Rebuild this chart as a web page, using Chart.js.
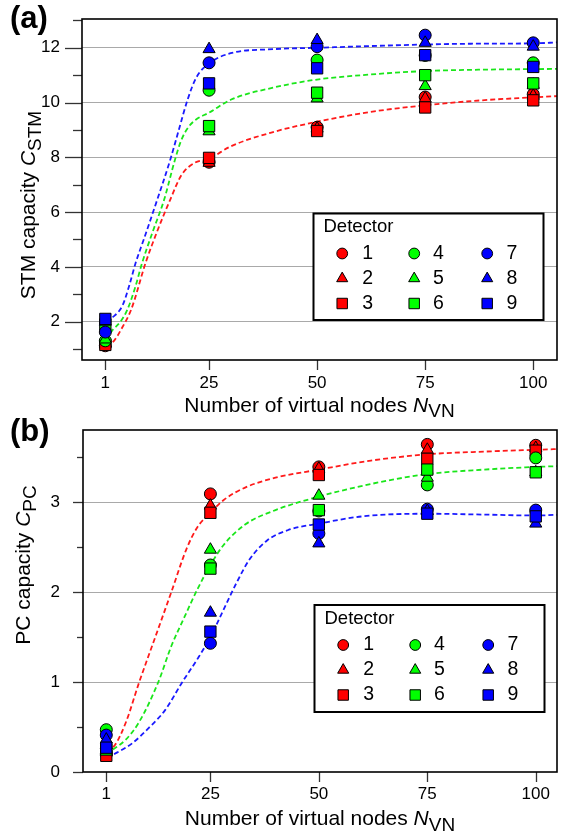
<!DOCTYPE html>
<html><head><meta charset="utf-8">
<script src="https://cdn.jsdelivr.net/npm/chart.js@4.4.0/dist/chart.umd.min.js"></script>
<style>
html,body{margin:0;padding:0;background:#fff;}
#wrap{position:relative;width:566px;height:838px;background:#fff;}
canvas{display:block;position:absolute;left:0;}
</style></head><body>
<div id="wrap">
<canvas id="ca" width="566" height="420" style="top:0"></canvas>
<canvas id="cb" width="566" height="438" style="top:400px"></canvas>
</div>
<script>
// ---------- data ----------
const nodeCounts = [1, 25, 50, 75, 100];
const xTicks = [1, 25, 50, 75, 100];
const stmMajor = [2, 4, 6, 8, 10, 12];
const stmMinor = [1, 3, 5, 7, 9, 11, 13];
const pcMajor = [0, 1, 2, 3];
const pcMinor = [0.5, 1.5, 2.5, 3.5];
const detectorLabels = ['1','2','3','4','5','6','7','8','9'];

// STM capacity per detector (x = nodeCounts)
const stm1 = [1.12, 7.82, 9.10, 10.20, 10.30];
const stm2 = [1.20, 7.80, 9.05, 10.15, 10.25];
const stm3 = [1.15, 7.98, 8.96, 9.82, 10.08];
const stm4 = [1.30, 10.45, 11.55, 11.72, 11.45];
const stm5 = [1.35, 8.95, 10.15, 10.60, 10.65];
const stm6 = [1.90, 9.14, 10.36, 11.00, 10.70];
const stm7 = [1.62, 11.45, 12.04, 12.46, 12.18];
const stm8 = [2.00, 11.95, 12.28, 12.18, 12.04];
const stm9 = [2.10, 10.70, 11.25, 11.73, 11.30];

// PC capacity per detector
const pc1 = [0.20, 3.09, 3.39, 3.64, 3.63];
const pc2 = [0.22, 2.96, 3.37, 3.58, 3.60];
const pc3 = [0.18, 2.88, 3.30, 3.48, 3.57];
const pc4 = [0.47, 2.30, 2.90, 3.19, 3.49];
const pc5 = [0.30, 2.47, 3.07, 3.27, 3.33];
const pc6 = [0.25, 2.26, 2.91, 3.36, 3.33];
const pc7 = [0.41, 1.43, 2.65, 2.92, 2.91];
const pc8 = [0.36, 1.77, 2.54, 2.90, 2.76];
const pc9 = [0.27, 1.56, 2.75, 2.87, 2.84];

// dashed fit curves
const stmFitRedX   = [1, 2, 3, 4.6, 7, 10.3, 13, 16, 18.6, 21.7, 25, 30, 40, 50, 62, 75, 88, 100, 106];
const stmFitRedY   = [1.15, 1.2, 1.3, 1.7, 2.45, 4.14, 5.3, 6.45, 7.35, 7.8, 7.95, 8.4, 8.93, 9.3, 9.65, 9.9, 10.08, 10.19, 10.24];
const stmFitGreenX = [1, 2.7, 4.5, 6.1, 8, 9.5, 12, 14.6, 17, 18.5, 20.2, 22, 25, 30, 40, 50, 62, 75, 88, 100, 106];
const stmFitGreenY = [1.35, 1.7, 2.0, 2.44, 3.3, 4.14, 5.3, 6.45, 7.85, 8.6, 9.1, 9.38, 9.63, 10.1, 10.55, 10.84, 11.02, 11.15, 11.2, 11.22, 11.23];
const stmFitBlueX  = [1, 3, 5, 6.5, 8, 10, 13, 16, 18, 20, 22, 25, 30, 40, 50, 62, 75, 88, 100, 106];
const stmFitBlueY  = [2.05, 2.2, 2.6, 3.3, 4.14, 5.05, 6.45, 7.9, 9.0, 10.09, 10.9, 11.43, 11.8, 11.95, 12.0, 12.06, 12.12, 12.15, 12.16, 12.2];

const pcFitRedX   = [1, 3, 5.5, 8.6, 12.3, 16, 19.5, 22, 25, 28, 33, 40, 50, 62, 75, 88, 100, 106];
const pcFitRedY   = [0.23, 0.3, 0.55, 1.0, 1.5, 2.0, 2.48, 2.72, 2.88, 3.02, 3.16, 3.27, 3.36, 3.46, 3.53, 3.56, 3.58, 3.59];
const pcFitGreenX = [1, 2.5, 5.5, 8.5, 13, 16, 19, 22, 25, 28, 33, 40, 50, 62, 75, 88, 100, 106];
const pcFitGreenY = [0.2, 0.25, 0.36, 0.55, 1.0, 1.4, 1.72, 2.03, 2.3, 2.52, 2.75, 2.91, 3.06, 3.2, 3.31, 3.36, 3.39, 3.4];
const pcFitBlueX  = [1, 2, 4, 7, 10.8, 14.6, 18.4, 22.2, 25, 28, 31, 34, 38, 43, 50, 60, 75, 88, 100, 106];
const pcFitBlueY  = [0.2, 0.19, 0.23, 0.32, 0.49, 0.69, 0.99, 1.27, 1.5, 1.8, 2.1, 2.36, 2.57, 2.69, 2.76, 2.84, 2.87, 2.86, 2.85, 2.86];

// ---------- styles ----------
const FONT = '"Liberation Sans", Arial, Helvetica, sans-serif';
const groupColors = ['#ff0000', '#00ff00', '#0000ff'];
const fitColors = ['#ff1a1a', '#1ae61a', '#1a1aff'];
const shapes = ['circle', 'triangle', 'rect'];
const markerRadius = {circle: 6, triangle: 7, rect: 8};
const legendRadius = {circle: 5.4, triangle: 6.4, rect: 7.4};

function buildDatasets(series, fits) {
  const ds = [];
  fits.forEach((f, k) => ds.push({
    type: 'line', data: f[0].map((x, i) => ({x: x, y: f[1][i]})),
    borderColor: fitColors[k], borderWidth: 1.8, borderDash: [5, 3],
    pointRadius: 0, pointHoverRadius: 0, fill: false,
    cubicInterpolationMode: 'monotone', order: 100
  }));
  series.forEach((s, i) => {
    const shape = shapes[i % 3];
    ds.push({
      type: 'scatter', label: detectorLabels[i],
      data: nodeCounts.map((x, j) => ({x: x, y: s[j]})),
      pointStyle: shape, pointRadius: markerRadius[shape], pointHoverRadius: markerRadius[shape],
      backgroundColor: groupColors[Math.floor(i / 3)], borderColor: '#000', borderWidth: 1,
      order: 10 - i
    });
  });
  return ds;
}

function richText(ctx, parts, cx, baseY) {
  let w = 0;
  parts.forEach(p => { ctx.font = p.font; p.w = ctx.measureText(p.t).width; w += p.w; });
  let x = cx - w / 2;
  ctx.textAlign = 'left'; ctx.textBaseline = 'alphabetic';
  parts.forEach(p => { ctx.font = p.font; ctx.fillText(p.t, x, baseY + (p.dy || 0)); x += p.w; });
}

function line(ctx, x1, y1, x2, y2) { ctx.beginPath(); ctx.moveTo(x1, y1); ctx.lineTo(x2, y2); ctx.stroke(); }

function makeChart(cfg) {
  const decor = {
    id: 'decor',
    afterDraw(chart) {
      const ctx = chart.ctx, a = chart.chartArea, xs = chart.scales.x, ys = chart.scales.y;
      ctx.save();
      // tick marks
      ctx.strokeStyle = '#333'; ctx.lineWidth = 1.3;
      cfg.yMajor.forEach(v => { const p = Math.round(ys.getPixelForValue(v)) + 0.5; line(ctx, a.left - cfg.majLen, p, a.left, p); });
      cfg.yMinor.forEach(v => { const p = Math.round(ys.getPixelForValue(v)) + 0.5; line(ctx, a.left - cfg.minLen, p, a.left, p); });
      xTicks.forEach(v => { const p = Math.round(xs.getPixelForValue(v)) + 0.5; line(ctx, p, a.bottom, p, a.bottom + cfg.xTickLen); });
      // frame
      ctx.strokeStyle = '#000'; ctx.lineWidth = 1.6;
      ctx.strokeRect(a.left, a.top, a.right - a.left, a.bottom - a.top);
      // legend
      const L = cfg.legend;
      ctx.fillStyle = '#fff'; ctx.fillRect(L.left, L.top, L.w, L.h);
      ctx.lineWidth = 2; ctx.strokeStyle = '#000';
      ctx.strokeRect(L.left, L.top, L.w, L.h);
      ctx.fillStyle = '#000'; ctx.font = '18.5px ' + FONT; ctx.textAlign = 'left'; ctx.textBaseline = 'middle';
      ctx.fillText('Detector', L.left + 10, L.top + 13.5);
      const colMarker = [28.7, 100.7, 173.7], colText = [48.7, 119.5, 193], rowY = [40, 65, 90];
      detectorLabels.forEach((lab, i) => {
        const col = Math.floor(i / 3), row = i % 3, shape = shapes[row];
        ctx.fillStyle = groupColors[col]; ctx.strokeStyle = '#000'; ctx.lineWidth = 1;
        Chart.helpers.drawPoint(ctx, {pointStyle: shape, radius: legendRadius[shape], borderWidth: 1, rotation: 0},
          L.left + colMarker[col], L.top + rowY[row]);
        ctx.fillStyle = '#000'; ctx.font = '19.5px ' + FONT; ctx.textAlign = 'left'; ctx.textBaseline = 'middle';
        ctx.fillText(lab, L.left + colText[col], L.top + rowY[row]);
      });
      // axis titles
      ctx.fillStyle = '#000';
      richText(ctx, [
        {t: 'Number of virtual nodes ', font: '21px ' + FONT},
        {t: 'N', font: 'italic 21px ' + FONT},
        {t: 'VN', font: '19px ' + FONT, dy: 5.5}
      ], (a.left + a.right) / 2, cfg.xTitleBase);
      ctx.save();
      ctx.translate(cfg.yTitleX, cfg.yTitleY);
      ctx.rotate(-Math.PI / 2);
      richText(ctx, cfg.yTitle, 0, 0);
      ctx.restore();
      // panel label
      ctx.font = 'bold 31px ' + FONT; ctx.textAlign = 'left'; ctx.textBaseline = 'alphabetic';
      ctx.fillText(cfg.panel, cfg.panelX, cfg.panelY);
      ctx.restore();
    }
  };
  return new Chart(document.getElementById(cfg.canvas), {
    type: 'scatter',
    data: {datasets: buildDatasets(cfg.series, cfg.fits)},
    options: {
      responsive: false, animation: false, devicePixelRatio: 1,
      events: [],
      layout: {padding: {left: 0, right: 1, top: cfg.padTop, bottom: 0}},
      plugins: {legend: {display: false}, tooltip: {enabled: false}},
      scales: {
        x: {
          type: 'linear', min: cfg.xMin, max: cfg.xMax,
          afterBuildTicks: s => { s.ticks = xTicks.map(v => ({value: v})); },
          afterFit: s => { s.height = cfg.xHeight; s.paddingLeft = 0; s.paddingRight = 0; },
          grid: {display: true, drawOnChartArea: false, drawTicks: false},
          border: {display: false},
          ticks: {padding: cfg.xPad, autoSkip: false, maxRotation: 0, color: '#000',
                  font: {family: FONT, size: 17}, callback: v => String(v)}
        },
        y: {
          type: 'linear', min: cfg.yMin, max: cfg.yMax,
          afterBuildTicks: s => { s.ticks = cfg.yMajor.map(v => ({value: v})); },
          afterFit: s => { s.width = cfg.yWidth; s.paddingTop = 0; s.paddingBottom = 0; },
          grid: {display: true, drawTicks: false, lineWidth: 1,
                 color: c => (c.tick && c.tick.value === cfg.yMin) ? 'rgba(0,0,0,0)' : '#a9a9a9'},
          border: {display: false},
          ticks: {padding: cfg.yPad, autoSkip: false, color: '#000',
                  font: {family: FONT, size: 17}, callback: v => String(v)}
        }
      }
    },
    plugins: [decor]
  });
}

makeChart({
  canvas: 'ca',
  series: [stm1, stm2, stm3, stm4, stm5, stm6, stm7, stm8, stm9],
  fits: [[stmFitRedX, stmFitRedY], [stmFitGreenX, stmFitGreenY], [stmFitBlueX, stmFitBlueY]],
  xMin: -4.4, xMax: 105.5, yMin: 0.6, yMax: 13.05,
  yMajor: stmMajor, yMinor: stmMinor,
  padTop: 19, yWidth: 82, xHeight: 60, xPad: 13, yPad: 22,
  majLen: 17, minLen: 9, xTickLen: 10,
  legend: {left: 313.5, top: 213.5, w: 230, h: 106.5},
  xTitleBase: 411.5,
  yTitle: [
    {t: 'STM capacity ', font: '21px ' + FONT},
    {t: 'C', font: 'italic 21px ' + FONT},
    {t: 'STM', font: '19px ' + FONT, dy: 5.5}
  ],
  yTitleX: 35, yTitleY: 205,
  panel: '(a)', panelX: 10, panelY: 28
});

makeChart({
  canvas: 'cb',
  series: [pc1, pc2, pc3, pc4, pc5, pc6, pc7, pc8, pc9],
  fits: [[pcFitRedX, pcFitRedY], [pcFitGreenX, pcFitGreenY], [pcFitBlueX, pcFitBlueY]],
  xMin: -4.37, xMax: 104.9, yMin: 0, yMax: 3.8,
  yMajor: pcMajor, yMinor: pcMinor,
  padTop: 30, yWidth: 83, xHeight: 66, xPad: 12, yPad: 23,
  majLen: 10, minLen: 6, xTickLen: 10,
  legend: {left: 314.5, top: 205, w: 230, h: 107},
  xTitleBase: 425,
  yTitle: [
    {t: 'PC capacity ', font: '21px ' + FONT},
    {t: 'C', font: 'italic 21px ' + FONT},
    {t: 'PC', font: '19px ' + FONT, dy: 5.5}
  ],
  yTitleX: 30, yTitleY: 165,
  panel: '(b)', panelX: 10, panelY: 41
});
</script>
</body></html>
